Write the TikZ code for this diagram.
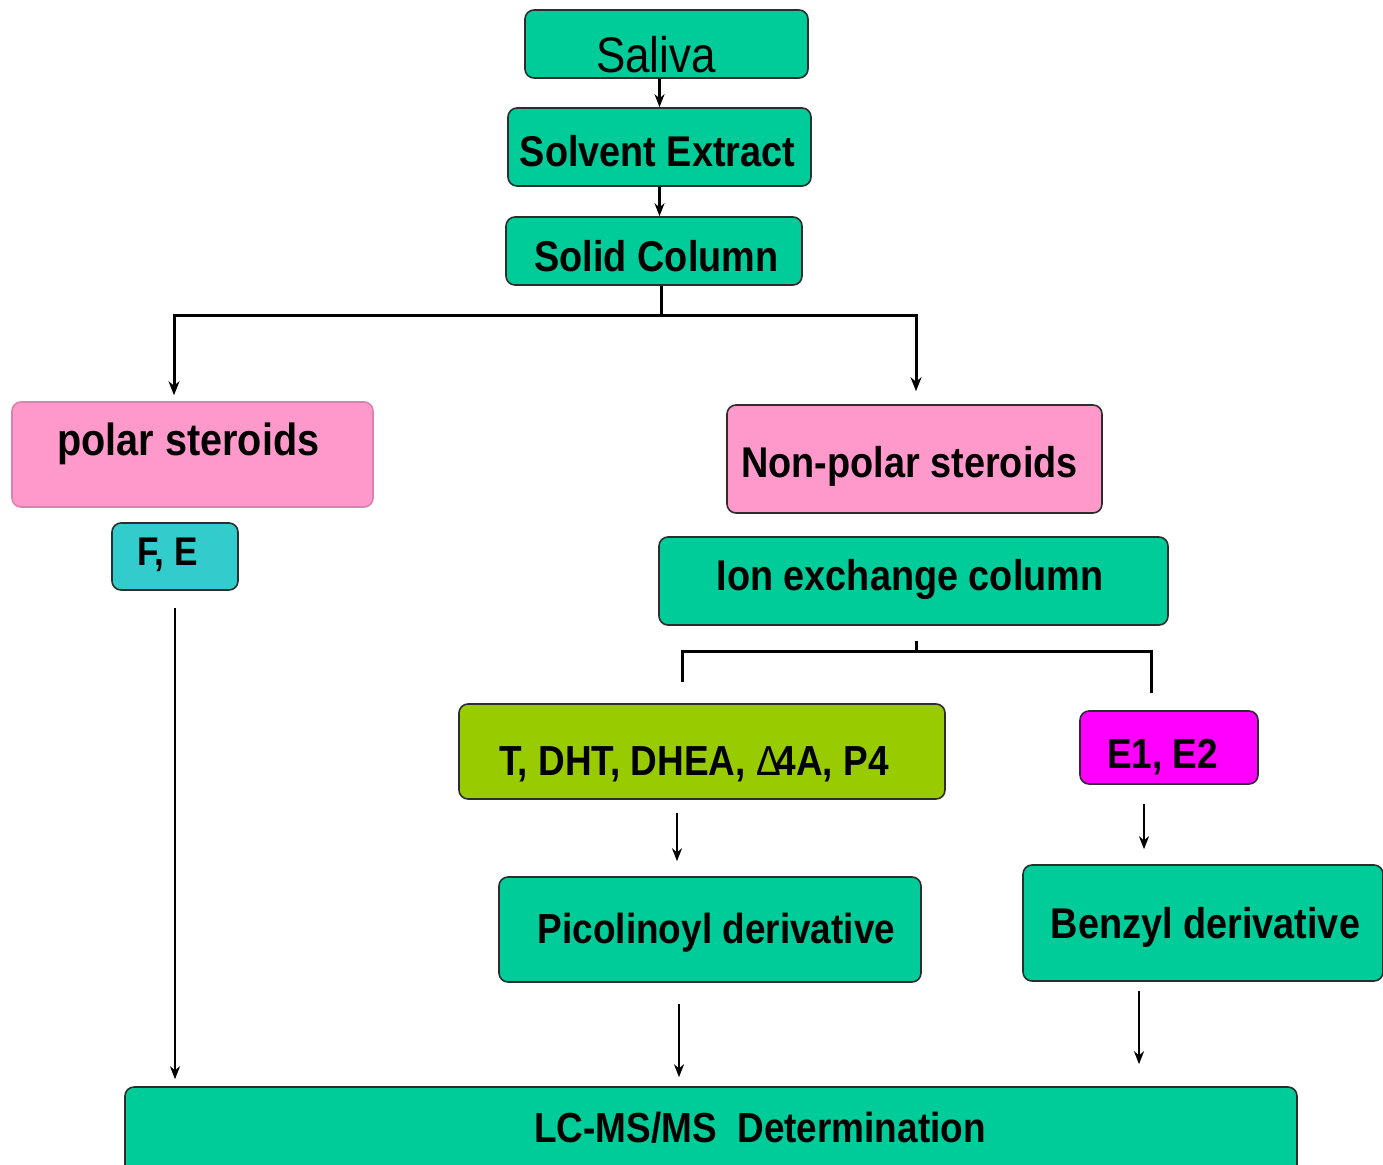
\documentclass[tikz,border=0pt]{standalone}
\usepackage{fontspec}
\usepackage{graphicx}
\setmainfont{Liberation Sans}
\newfontfamily\cnd[FakeStretch=0.88]{Liberation Sans}
\usetikzlibrary{arrows.meta}
\definecolor{teal0}{RGB}{0,204,153}
\definecolor{pink0}{RGB}{255,153,204}
\definecolor{cyan0}{RGB}{51,204,204}
\definecolor{lime0}{RGB}{153,204,0}
\definecolor{mag0}{RGB}{255,0,255}
\definecolor{edge0}{RGB}{45,45,45}
\begin{document}
\begin{tikzpicture}[x=1pt,y=-1pt,
  box/.style={draw=edge0, line width=1.6pt, rounded corners=9pt, inner sep=0pt},
  txt/.style={anchor=base, inner sep=0pt, font={\cnd\fontsize{43}{50}\selectfont\bfseries}},
  conn/.style={line width=3pt, line join=miter},
  arr/.style={line width=2.4pt, -{Stealth[length=13pt,width=10pt]}},
  elbarr/.style={line width=3pt, -{Stealth[length=14pt,width=11pt]}}
]
\clip (0,0) rectangle (1383,1164);
\useasboundingbox (0,0) rectangle (1383,1164);
\fill[white] (0,0) rectangle (1383,1164);

% boxes
\node[box, fill=teal0, minimum width=283pt, minimum height=68pt] (saliva) at (666.5,44) {};
\node[box, fill=teal0, minimum width=303pt, minimum height=78pt] (solvent) at (659.5,147) {};
\node[box, fill=teal0, minimum width=296pt, minimum height=68pt] (solid) at (654,251) {};
\node[box, draw=pink0!85!black, fill=pink0, minimum width=361pt, minimum height=105pt] (polar) at (192.5,454.5) {};
\node[box, fill=cyan0, minimum width=126pt, minimum height=67pt] (fe) at (175,556.5) {};
\node[box, fill=pink0, minimum width=375pt, minimum height=108pt] (nonpolar) at (914.5,459) {};
\node[box, fill=teal0, minimum width=509pt, minimum height=88pt] (ion) at (913.5,581) {};
\node[box, fill=lime0, minimum width=486pt, minimum height=95pt] (tbox) at (702,751.5) {};
\node[box, fill=mag0, minimum width=178pt, minimum height=73pt] (e1) at (1169,747.5) {};
\node[box, fill=teal0, minimum width=422pt, minimum height=105pt] (pico) at (710,929.5) {};
\node[box, fill=teal0, minimum width=360pt, minimum height=116pt] (benzyl) at (1203,923) {};
\node[box, fill=teal0, minimum width=1172pt, minimum height=88pt] (lcms) at (711,1131) {};

% texts
\node[txt, font={\cnd\fontsize{50}{56}\selectfont}] (tsaliva) at (656,72) {Saliva};
\node[txt] (tsolvent) at (657.5,166) {Solvent Extract};
\node[txt] (tsolid) at (656.5,271) {Solid Column};
\node[txt, font={\cnd\fontsize{45}{52}\selectfont\bfseries}] (tpolar) at (188.5,455) {polar steroids};
\node[txt, font={\cnd\fontsize{40}{46}\selectfont\bfseries}] (tfe) at (167.5,565) {F, E};
\node[txt] (tnonpolar) at (909.5,477) {Non-polar steroids};
\node[txt] (tion) at (910,590) {Ion exchange column};
\node[txt, font={\cnd\fontsize{42}{48}\selectfont\bfseries}] (tt) at (694,775) {T, DHT, DHEA, {\mdseries Δ}\kern-5pt4A, P4};
\node[txt, font={\cnd\fontsize{42}{48}\selectfont\bfseries}] (te1) at (1162.5,768) {E1, E2};
\node[txt, font={\cnd\fontsize{42}{48}\selectfont\bfseries}] (tpico) at (716.5,943) {Picolinoyl derivative};
\node[txt] (tbenzyl) at (1205.5,938) {Benzyl derivative};
\node[txt, font={\cnd\fontsize{42}{48}\selectfont\bfseries}] (tlcms) at (760,1142) {LC-MS/MS\ \ Determination};

% junction coordinates
\coordinate (j1) at (661,315);
\coordinate (bl) at (174,315);
\coordinate (br) at (916,315);
\coordinate (j2) at (916,651);
\coordinate (l2) at (682,651);
\coordinate (r2) at (1151,651);
\coordinate (ca) at (677,0);
\coordinate (cb) at (1144,0);
\coordinate (cc) at (679,0);
\coordinate (cd) at (1139,0);

% connectors
\draw[arr] (solvent.north |- saliva.south) -- (solvent.north);
\draw[arr] (solvent.south) -- (solvent.south |- solid.north);
\draw[conn] (solid.south -| j1) -- (j1);
\draw[elbarr, shorten >=6pt] (j1) -| (polar.north -| bl);
\draw[elbarr, shorten >=13pt] (j1) -| (nonpolar.north -| br);
\draw[arr, shorten <=17pt, shorten >=7pt] (fe.south) -- (fe.south |- lcms.north);
\draw[conn, shorten <=15pt] (ion.south -| j2) -- (j2);
\draw[conn, shorten <=21pt, shorten >=17pt] (tbox.north -| l2) |- (r2) -- (e1.north -| r2);
\draw[arr, shorten <=13pt, shorten >=15pt] (tbox.south -| ca) -- (pico.north -| ca);
\draw[arr, shorten <=19pt, shorten >=15pt] (e1.south -| cb) -- (benzyl.north -| cb);
\draw[arr, shorten <=21pt, shorten >=9pt] (pico.south -| cc) -- (lcms.north -| cc);
\draw[arr, shorten <=9pt, shorten >=22pt] (benzyl.south -| cd) -- (lcms.north -| cd);
\end{tikzpicture}
\end{document}
